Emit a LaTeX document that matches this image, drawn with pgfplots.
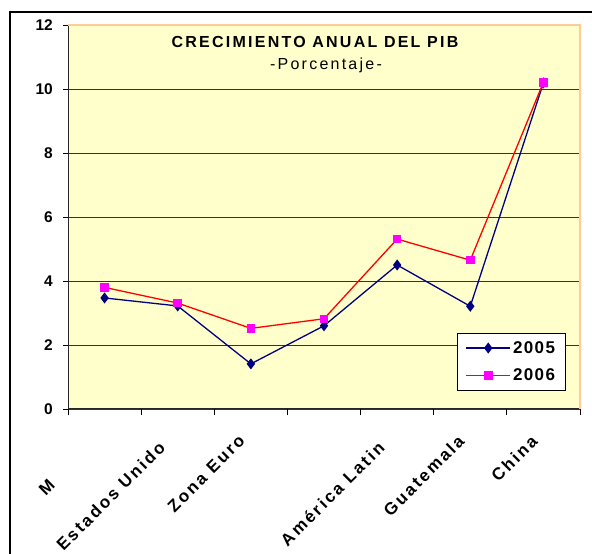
\documentclass[border=0pt]{standalone}
\usepackage{fontspec}
\setmainfont{Liberation Sans}
\newfontfamily\spaced[LetterSpace=14]{Liberation Sans}
\newfontfamily\lspaced[LetterSpace=8]{Liberation Sans}
\usepackage{pgfplots}
\pgfplotsset{compat=1.18}

\definecolor{plotbg}{RGB}{255,255,204}
\definecolor{peach}{RGB}{255,204,153}
\definecolor{navyline}{RGB}{0,0,128}
\definecolor{magmark}{RGB}{255,0,255}

\begin{document}
\begin{tikzpicture}[x=1pt,y=1pt]
\useasboundingbox (0,0) rectangle (592,554);
\clip (0,0) rectangle (592,554);
% outer chart frame (cut off at right and bottom)
\draw[line width=1.3pt] (10,-10) -- (10,542) -- (600,542);

\begin{axis}[
  at={(68pt,145pt)}, anchor=south west,
  width=512pt, height=384pt, scale only axis,
  xmin=0.5, xmax=7.5, ymin=0, ymax=12,
  axis lines*=left,
  axis line style={black!85, line width=1pt},
  axis background/.style={fill=plotbg},
  ytick={0,2,...,12},
  ymajorgrids, grid style={black!80, line width=0.8pt},
  xtick={1,...,7},
  minor xtick={0.5,1.5,...,7.5},
  major tick length=5pt,
  minor tick length=6pt,
  tick align=outside,
  tick style={black, line width=0.8pt},
  every major x tick/.style={draw=none},
  xticklabels={{M\phantom{undial}},{Estados Unido\phantom{s}},{Zona Euro},{\phantom{Japón}},{América Latin\phantom{a}},{Guatemala},{China}},
  x tick label style={font=\spaced\bfseries\fontsize{17}{17}\selectfont, inner sep=0pt, xshift=-9pt, yshift=-24pt, rotate=45, anchor=east},
  /pgf/number format/assume math mode=true,
  y tick label style={font=\bfseries\fontsize{15.5}{15.5}\selectfont, inner sep=0pt, xshift=-10pt},
  clip=false,
  legend style={at={(0.7598,0.198)}, anchor=north west, draw=black, line width=0.8pt, fill=white,
    font=\lspaced\bfseries\fontsize{17}{17}\selectfont, inner xsep=8pt, inner ysep=6pt, row sep=10pt},
  legend cell align=left,
  legend image code/.code={
    \draw[#1, line width=1.7pt, mark=none] (0pt,0pt) -- (44pt,0pt);
    \draw[#1, only marks] plot coordinates {(22pt,0pt)};},
]
\addplot[navyline, line width=1.3pt, mark=diamond*, mark size=4.5pt, mark options={fill=navyline, draw=navyline}]
  coordinates {(1,3.47) (2,3.22) (3,1.41) (4,2.60) (5,4.50) (6,3.21) (7,10.19)};
\addlegendentry{2005}
\addplot[red, line width=1.3pt, mark=square*, mark size=3.6pt, mark options={fill=magmark, draw=magmark}]
  coordinates {(1,3.80) (2,3.31) (3,2.52) (4,2.82) (5,5.31) (6,4.65) (7,10.21)};
\addlegendentry{2006}
\draw[peach, line width=1.5pt] (rel axis cs:0,1) -- (rel axis cs:1,1) -- (rel axis cs:1,0);
\end{axis}

\node[anchor=base, font=\spaced\bfseries\fontsize{16}{16}\selectfont] at (315,506) {CRECIMIENTO ANUAL DEL PIB};
\node[anchor=base, font=\spaced\fontsize{16}{16}\selectfont] at (326,484) {-Porcentaje-};
\end{tikzpicture}
\end{document}
